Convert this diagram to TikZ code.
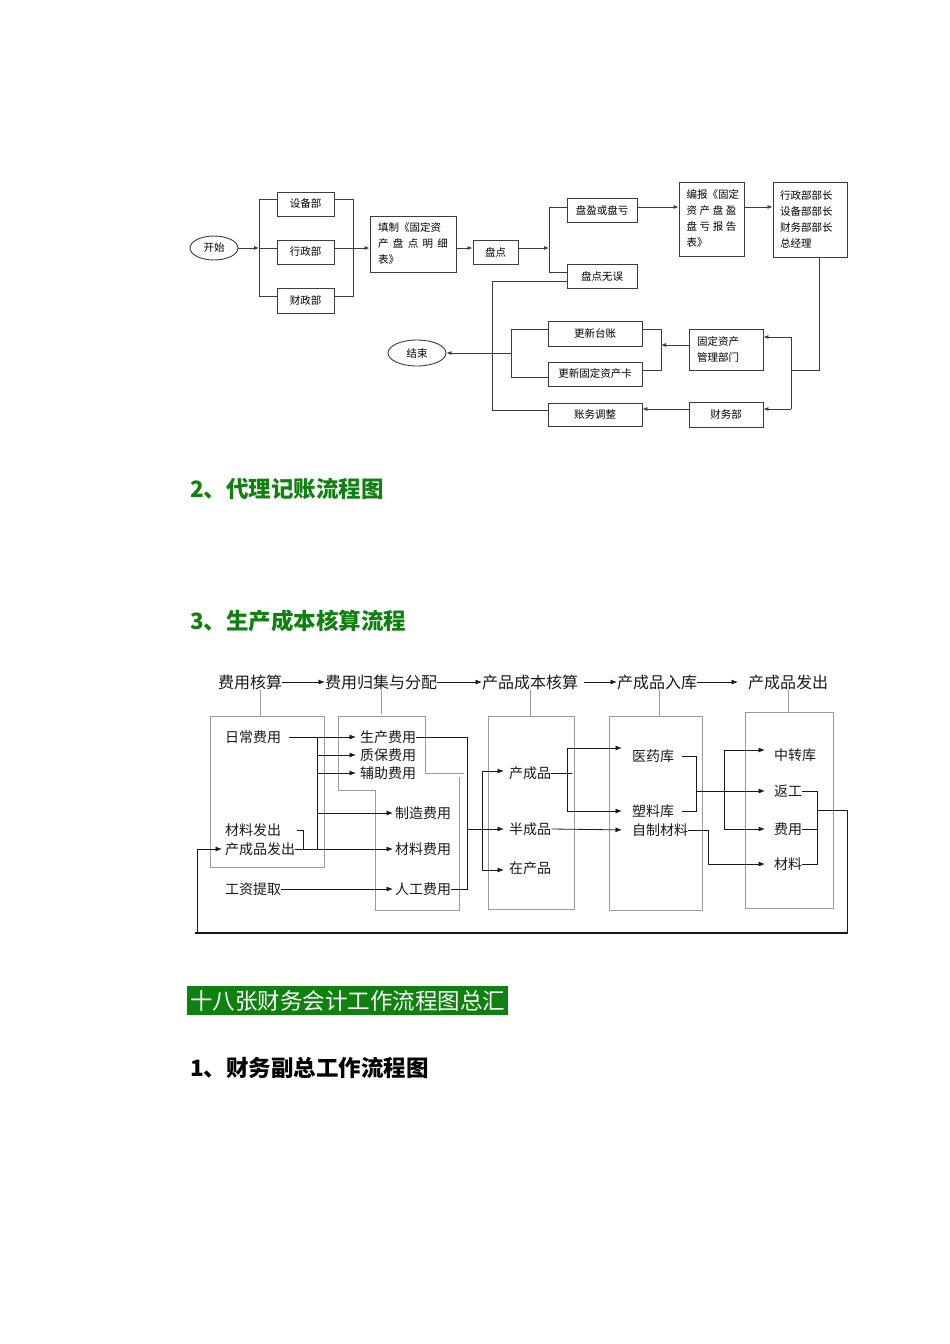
\documentclass[tikz,border=0pt]{standalone}
\usepackage{fontspec}
\setmainfont{Noto Sans CJK SC}
\usetikzlibrary{shapes.geometric,arrows.meta}
\definecolor{linegray}{RGB}{60,60,60}
\definecolor{boxgray}{RGB}{155,155,155}
\definecolor{hdgreen}{RGB}{16,128,16}

\begin{document}
\begin{tikzpicture}[x=1pt,y=-1pt,
  fline/.style={draw=linegray,line width=0.8pt},
  farr/.style={fline,-{Latex[length=5pt,width=4pt]}},
  fbox/.style={draw=linegray,line width=0.9pt,inner sep=0pt,text=black,
    font=\fontsize{10.5}{16}\selectfont},
  foval/.style={fbox,ellipse},
  gline/.style={draw=boxgray,line width=0.8pt},
  bline/.style={draw=black!90,line width=0.8pt},
  barr/.style={bline,-{Latex[length=6.5pt,width=5pt]}},
  ttext/.style={anchor=west,inner sep=0pt,text=black!90,font=\fontsize{14}{14}\selectfont},
  htext/.style={ttext,font=\fontsize{16}{16}\selectfont},
  hd/.style={anchor=west,inner sep=0pt,font=\fontsize{22.5}{24}\selectfont\bfseries}]

\useasboundingbox (0,0) rectangle (950,1344);

% stocktaking of fixed assets
\node[foval,minimum width=48,minimum height=24] (kaishi) at (214,248) {开始};
\node[fbox,minimum width=57,minimum height=24] (shebei) at (305.5,204) {设备部};
\node[fbox,minimum width=57,minimum height=24] (xingzheng) at (305.5,252) {行政部};
\node[fbox,minimum width=57,minimum height=25] (caizheng) at (305.5,300.5) {财政部};
\node[fbox,minimum width=86,minimum height=56,text width=70,align=left] (tianzhi) at (413,244)
  {填制《固定资\\\makebox[70pt][s]{产\hfill 盘\hfill 点\hfill 明\hfill 细}\\表》};
\node[fbox,minimum width=45,minimum height=24] (pandian) at (495.5,252) {盘点};
\node[fbox,minimum width=70,minimum height=24] (panying) at (602,210) {盘盈或盘亏};
\node[fbox,minimum width=70,minimum height=24] (wuwu) at (602,276) {盘点无误};
\node[fbox,minimum width=65,minimum height=74,text width=50,align=left] (bianbao) at (711.5,219)
  {编报《固定\\\makebox[50pt][s]{资\hfill 产\hfill 盘\hfill 盈}\\\makebox[50pt][s]{盘\hfill 亏\hfill 报\hfill 告}\\表》};
\node[fbox,minimum width=74,minimum height=75,text width=60,align=left] (lingdao) at (810,219.5)
  {行政部部长\\设备部部长\\财务部部长\\总经理};
\node[fbox,minimum width=74,minimum height=41,text width=58,align=left] (guanli) at (726,349.5)
  {固定资产\\管理部门};
\node[fbox,minimum width=74,minimum height=25] (caiwu) at (726,414.5) {财务部};
\node[fbox,minimum width=94,minimum height=25] (taizhang) at (595,333.5) {更新台账};
\node[fbox,minimum width=94,minimum height=24] (kapian) at (595,374) {更新固定资产卡};
\node[fbox,minimum width=94,minimum height=23] (tiaozheng) at (595,414.5) {账务调整};
\node[foval,minimum width=58,minimum height=26] (jieshu) at (417,353) {结束};

\coordinate (lbt) at (259,199);
\coordinate (lbm) at (259,248);
\coordinate (lbb) at (259,296);
\coordinate (rbt) at (353,199);
\coordinate (rbm) at (353,248);
\coordinate (rbb) at (353,296);
\coordinate (pbt) at (549,207);
\coordinate (pbm) at (549,248);
\coordinate (pbb) at (549,272);
\coordinate (dn) at (819,370);
\coordinate (gbt) at (791,337);
\coordinate (gbb) at (791,409);
\coordinate (ubt) at (661,329);
\coordinate (ubm) at (661,345);
\coordinate (ubb) at (661,370);
\coordinate (vbt) at (511,329);
\coordinate (vbm) at (511,353);
\coordinate (vbb) at (511,377);
\coordinate (wl1) at (492,281);
\coordinate (wl2) at (492,410);

\draw[farr] (kaishi.east) -- (lbm);
\draw[fline] (lbt) -- (lbb);
\draw[fline] (lbt) -- (lbt -| shebei.west);
\draw[fline] (lbm) -- (lbm -| xingzheng.west);
\draw[fline] (lbb) -- (lbb -| caizheng.west);
\draw[fline] (shebei.east |- rbt) -- (rbt) -- (rbb) -- (caizheng.east |- rbb);
\draw[farr] (xingzheng.east |- rbm) -- (tianzhi.west |- rbm);
\draw[farr] (tianzhi.east |- rbm) -- (pandian.west |- rbm);
\draw[farr] (pandian.east |- rbm) -- (pbm);
\draw[fline] (panying.west |- pbt) -- (pbt) -- (pbb) -- (wuwu.west |- pbb);
\draw[farr] (panying.east |- pbt) -- (bianbao.west |- pbt);
\draw[farr] (bianbao.east |- pbt) -- (lingdao.west |- pbt);
\draw[fline] (lingdao.south -| dn) -- (dn) -- (dn -| gbt);
\draw[fline] (gbt) -- (gbb);
\draw[farr] (gbt) -- (guanli.east |- gbt);
\draw[farr] (gbb) -- (caiwu.east |- gbb);
\draw[farr] (guanli.west |- ubm) -- (ubm);
\draw[fline] (taizhang.east |- ubt) -- (ubt) -- (ubb) -- (kapian.east |- ubb);
\draw[fline] (taizhang.west |- vbt) -- (vbt) -- (vbb) -- (kapian.west |- vbb);
\draw[farr] (vbm) -- (jieshu.east |- vbm);
\draw[fline] (wuwu.west |- wl1) -- (wl1) -- (wl2) -- (tiaozheng.west |- wl2);
\draw[farr] (caiwu.west |- gbb) -- (tiaozheng.east |- gbb);

% headings
\node[hd,text=hdgreen] (t2) at (190,489) {2、代理记账流程图};
\node[hd,text=hdgreen] (t3) at (190,621) {3、生产成本核算流程};
\node[anchor=west,fill=hdgreen,text=white,inner xsep=3pt,inner ysep=0pt,minimum height=29,
  font=\fontsize{22.5}{24}\selectfont] (t18) at (187,1000.5) {十八张财务会计工作流程图总汇};
\node[hd,text=black] (t1) at (190,1068) {1、财务副总工作流程图};

% production cost accounting
\node[htext] (fyhs) at (218,682) {费用核算};
\node[htext] (fygj) at (325,682) {费用归集与分配};
\node[htext] (cpcb) at (482,682) {产品成本核算};
\node[htext] (cprk) at (617,682) {产成品入库};
\node[htext] (cpfc) at (748,682) {产成品发出};

\draw[barr] (fyhs.east) -- (fygj.west);
\draw[barr] (fygj.east) -- (cpcb.west);
\draw[barr,shorten <=6pt] (cpcb.east) -- (cprk.west);
\draw[barr,shorten >=10pt] (cprk.east) -- (cpfc.west);

\node[gline,minimum width=114,minimum height=151,inner sep=0pt] (bx1) at (267,791.5) {};
\node[gline,minimum width=86,minimum height=193,inner sep=0pt] (bx3) at (531,812.5) {};
\node[gline,minimum width=93,minimum height=194,inner sep=0pt] (bx4) at (655.5,813) {};
\node[gline,minimum width=88,minimum height=196,inner sep=0pt] (bx5) at (789,810) {};
\draw[gline] (464,773) -- (425,773) -- (425,716) -- (338,716) -- (338,790) -- (375,790)
  -- (375,910) -- (459,910) -- (459,777);

\draw[gline] ([xshift=10pt]fyhs.south) -- ([xshift=10pt]fyhs.south |- bx1.north);
\draw[gline] (fygj.south) -- ++(0,24);
\draw[gline] (cpcb.south) -- (cpcb.south |- bx3.north);
\draw[gline] ([xshift=2pt]cprk.south) -- ([xshift=2pt]cprk.south |- bx4.north);
\draw[gline] (cpfc.south) -- (cpfc.south |- bx5.north);

\node[ttext] (rcfy) at (225,737) {日常费用};
\node[ttext] (clfc) at (225,830) {材料发出};
\node[ttext] (cpfc2) at (225,849) {产成品发出};
\node[ttext] (gztq) at (225,889) {工资提取};
\node[ttext] (scfy) at (360,737) {生产费用};
\node[ttext] (zbfy) at (360,755) {质保费用};
\node[ttext] (fzfy) at (360,773) {辅助费用};
\node[ttext] (zzfy) at (395,813) {制造费用};
\node[ttext] (clfy) at (395,849) {材料费用};
\node[ttext] (rgfy) at (395,889) {人工费用};
\node[ttext] (ccp) at (509,773) {产成品};
\node[ttext] (bcp) at (509,829) {半成品};
\node[ttext] (zcp) at (509,868) {在产品};
\node[ttext] (yyk) at (632,756) {医药库};
\node[ttext] (slk) at (632,811) {塑料库};
\node[ttext] (zzcl) at (632,830) {自制材料};
\node[ttext] (zzk) at (774,755) {中转库};
\node[ttext] (fg) at (774,791) {返工};
\node[ttext] (fyo) at (774,829) {费用};
\node[ttext] (cl) at (774,864) {材料};

\coordinate (ba) at (317,737);
\coordinate (bb) at (317,849);
\coordinate (rc2) at (467,889);
\coordinate (cbm) at (467,829);
\coordinate (cbt) at (482,771);
\coordinate (cbb) at (482,870);
\coordinate (pa) at (567,748);
\coordinate (pb) at (567,811);
\coordinate (qa) at (696,791);
\coordinate (ra) at (724,750);
\coordinate (rb) at (724,829);
\coordinate (sa) at (708,864);
\coordinate (ta) at (817,791);
\coordinate (tb) at (817,864);
\coordinate (tm) at (817,810);
\coordinate (tc) at (847,810);
\coordinate (td) at (847,933);
\coordinate (te) at (197,933);

\draw[barr,shorten <=8pt,shorten >=4pt] (rcfy.east) -- (scfy.west);
\draw[bline] (ba) -- (bb);
\draw[barr,shorten >=4pt] (ba |- zbfy.west) -- (zbfy.west);
\draw[barr,shorten >=4pt] (ba |- fzfy.west) -- (fzfy.west);
\draw[barr,shorten >=2pt] (ba |- zzfy.west) -- (zzfy.west);
\draw[barr,shorten >=2pt] (cpfc2.east) -- (clfy.west);
\draw[bline] ([xshift=16pt]clfc.east) -| ([xshift=8pt]cpfc2.east);
\draw[barr,shorten >=2pt] (gztq.east) -- (rgfy.west);
\draw[bline] (scfy.east) -| (rc2) -- (rgfy.east);
\draw[barr,shorten >=5pt] (cbm) -- (bcp.west);
\draw[bline] (cbt) -- (cbb);
\draw[barr,shorten >=5pt] (cbt) -- (cbt -| ccp.west);
\draw[barr,shorten >=5pt] (cbb) -- (cbb -| zcp.west);

\draw[bline] (ccp.east) -- ++(21,0);
\draw[bline] (pa) -- (pb);
\draw[barr,shorten >=10pt] (pa) -- (pa -| yyk.west);
\draw[barr,shorten >=10pt] (pb) -- (slk.west);
\draw[barr,shorten >=10pt] (bcp.east) -- (zzcl.west);
\draw[bline] ([xshift=8pt]yyk.east) -| ([xshift=22pt]slk.east) -- ([xshift=8pt]slk.east);
\draw[barr,shorten >=9pt] (qa) -- (fg.west);
\draw[bline] (ra) -- (rb);
\draw[barr,shorten >=9pt] (ra) -- (ra -| zzk.west);
\draw[barr,shorten >=9pt] (rb) -- (fyo.west);
\draw[bline] (zzcl.east) -| (sa);
\draw[barr,shorten >=9pt] (sa) -- (cl.west);

\draw[bline] (fg.east) -- (ta) -- (tb) -- (cl.east);
\draw[bline] (fyo.east) -- (fyo.east -| ta);
\draw[bline] (tm) -- (tc) -- (td);
\draw[bline,line width=1.4pt] ([xshift=1pt]td) -- ([xshift=-2pt]te);
\draw[barr,shorten >=3pt] (te) |- (cpfc2.west);

\end{tikzpicture}
\end{document}
